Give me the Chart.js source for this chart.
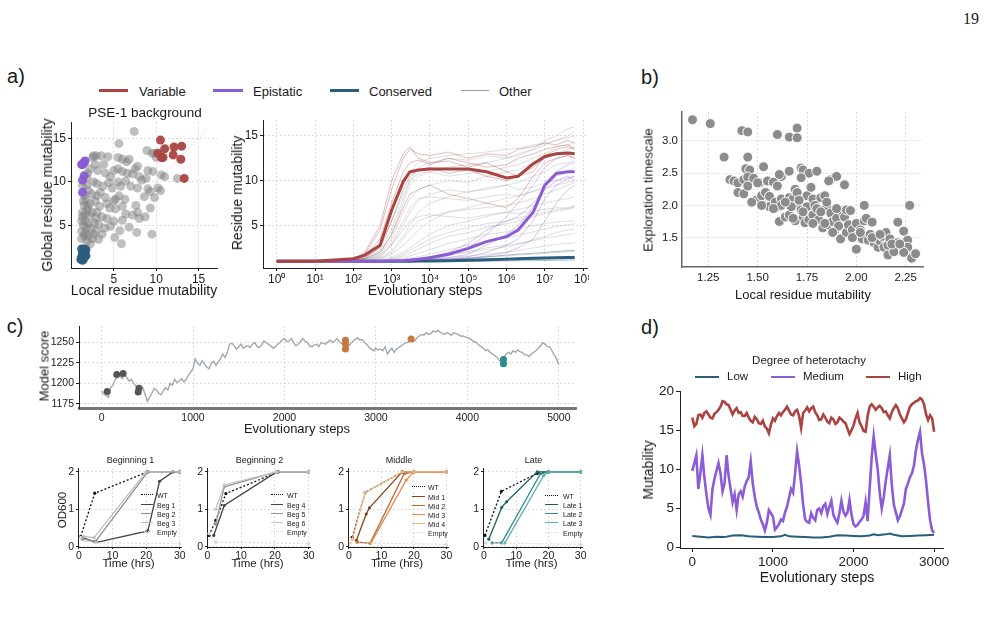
<!DOCTYPE html>
<html>
<head>
<meta charset="utf-8">
<script src="https://cdn.jsdelivr.net/npm/chart.js@4.4.1/dist/chart.umd.min.js"></script>
<style>
  body { margin: 0; background: #fff; }
  #fig { position: relative; width: 991px; height: 623px; overflow: hidden; background: #fff;
         font-family: "Liberation Sans", Arial, Helvetica, sans-serif; color: #1a1a1a; }
  #fig canvas { position: absolute; }
  .t { position: absolute; white-space: nowrap; transform: translate(-50%, -50%); line-height: 1; }
  .t.rot { transform: translate(-50%, -50%) rotate(-90deg); }
  .t.lft { transform: translate(0, -50%); }
</style>
</head>
<body>
<div id="fig"></div>
<script>
// ---- panel a (left): local vs global residue mutability ----
const aOther = [[7.4,15.8],[5.6,14.4],[2.6,13.0],[2.9,13.0],[3.5,13.0],[4.3,12.9],[5.5,12.8],[6.0,12.6],[6.5,12.3],
  [6.8,12.6],[7.8,11.8],[8.9,13.6],[9.5,13.3],[9.8,13.3],[10.0,12.8],[2.8,12.0],[2.2,11.5],[3.1,11.3],[4.0,11.0],
  [5.0,11.3],[5.5,11.5],[6.0,11.2],[6.6,11.0],[7.2,10.9],[8.0,10.6],[9.0,11.3],[9.6,11.2],[10.6,10.8],[11.0,10.6],
  [12.5,10.4],[1.9,11.0],[1.8,10.5],[2.6,10.0],[3.0,9.8],[3.7,9.5],[4.8,9.3],[5.5,10.0],[5.8,9.5],[6.4,10.1],[7.0,9.5],
  [7.8,9.3],[8.3,10.2],[9.0,9.2],[10.2,9.3],[10.5,9.0],[2.0,9.0],[2.4,8.6],[3.0,8.4],[4.0,8.2],[5.0,7.8],[5.6,8.4],
  [6.3,8.0],[7.6,7.3],[8.6,8.3],[9.8,8.2],[1.5,8.5],[1.7,8.0],[2.2,7.5],[2.8,7.8],[3.3,7.2],[4.5,7.0],[5.2,6.9],
  [6.4,6.3],[7.8,6.5],[8.7,6.0],[9.3,7.0],[1.5,7.3],[1.9,6.8],[2.4,6.5],[3.0,6.5],[3.6,6.0],[4.2,5.8],[5.0,5.5],
  [6.0,5.6],[7.2,6.2],[8.0,5.8],[1.3,6.0],[1.6,5.5],[2.0,5.2],[2.7,5.3],[3.2,5.1],[4.6,4.9],[6.8,4.8],[1.4,5.0],
  [1.8,4.7],[2.3,4.6],[2.9,4.4],[3.6,4.0],[5.7,4.4],[7.7,4.2],[1.6,4.1],[2.0,3.8],[2.5,3.5],[3.2,3.4],[5.1,3.6],
  [9.5,4.0],[5.9,2.9],[1.8,3.2],[2.2,2.9],[1.2,3.5],[1.2,4.3],[1.3,6.5],[1.4,7.8],[1.3,9.6],[1.8,9.6],[2.5,12.8],
  [3.8,12.0],[4.6,10.6],[7.5,11.5],[5.2,8.0],[4.2,7.5],[3.4,8.8],[2.9,5.9],[1.6,6.3],[2.1,6.1],[1.2,5.5],[1.9,7.2],
  [4.4,9.9],[6.0,7.2],[8.8,10.4],[9.3,8.9],[3.9,4.7],[2.6,4.0],[1.5,3.8]];
const aVariable = [[10.5,14.8],[11.0,13.8],[10.2,13.3],[10.6,12.8],[10.8,12.8],[12.1,14.0],[12.0,13.1],[13.0,14.1],[12.9,12.6],[13.3,10.4]];
const aEpistatic = [[1.3,12.0],[1.5,12.3],[1.6,12.4],[1.4,12.1],[1.5,10.7],[1.3,10.2],[1.3,8.8],[1.2,12.0]];
const aConserved = [[1.2,2.3],[1.5,2.3],[1.7,2.2],[1.3,1.8],[1.6,1.8],[1.2,1.4],[1.5,1.4],[1.1,1.1],[1.4,1.1],[1.3,1.0],[1.7,1.5]];
const aDiagonal = [1, 16];
const aScatterTicks = [5, 10, 15];

// ---- panel a (right): residue mutability over evolutionary steps ----
const aSteps = [1, 10, 100, 200, 500, 1e3, 2e3, 3e3, 5e3, 1e4, 3e4, 1e5, 3e5, 1e6, 2e6, 5e6, 1e7, 2e7, 4e7, 6e7];
const aVarMean  = [1,1,1.3,1.7,2.8,6.7,9.9,11,11.2,11.3,11.3,11.3,11,10.3,10.5,11.9,12.7,13,13.1,13];
const aEpiMean  = [1,1,1,1,1,1.05,1.1,1.15,1.25,1.4,1.8,2.45,3.2,3.75,4.5,6.5,9.5,10.8,11,11];
const aConsMean = [1,1,1,1,1,1,1.01,1.02,1.03,1.05,1.08,1.12,1.18,1.25,1.3,1.35,1.38,1.4,1.42,1.42];
const aVarRuns = [
  [1,1,1.2,1.8,4.5,9,12.5,13.5,13,12.8,13.2,12.5,13,12.8,13.5,13.8,14.2,14,14.5,14.2],
  [1,1,1.15,1.6,3.5,7.5,11,12,12.3,11.8,12.5,12,11.5,11.8,12.5,13,13.5,13.8,14,13.6],
  [1,1,1.1,1.4,2.5,5.5,9,10.5,11.2,11.5,10.8,11.2,10.5,10,10.5,11.5,12.5,13,13.2,13],
  [1,1,1.1,1.3,2,4,7,8.5,9,9.5,8.5,8,7.5,7,8,10.5,12,12.5,12.8,12.5],
  [1,1,1.2,2,5,10,13,13.8,12.5,12,12.2,11.5,12,11,10.5,11,12.8,13.5,13.8,13.5]];
const aEpiRuns = [
  [1,1,1,1,1,1.05,1.1,1.1,1.2,1.3,1.6,2.5,4,6,7.5,9.5,11.5,12.5,12.8,12.5],
  [1,1,1,1,1,1,1.05,1.1,1.15,1.2,1.4,1.8,2.8,4,5,7,9.5,11,11.8,12],
  [1,1,1,1,1,1,1.02,1.05,1.1,1.15,1.25,1.5,2,2.8,3.5,5.5,8,9.5,10.2,10.5],
  [1,1,1,1,1,1.05,1.1,1.2,1.3,1.5,2,3,4.5,5.5,6,7.5,9,10,10.5,10],
  [1,1,1,1,1,1,1,1.02,1.05,1.1,1.2,1.35,1.6,2,2.5,3.5,5.5,7.5,9,9.5]];
const aConsRuns = [
  [1,1,1,1,1,1,1.02,1.03,1.05,1.1,1.2,1.3,1.5,1.7,1.8,1.9,2,2.1,2.2,2.2],
  [1,1,1,1,1,1,1,1,1.02,1.03,1.05,1.08,1.1,1.15,1.2,1.25,1.3,1.35,1.4,1.4],
  [1,1,1,1,1,1,1,1,1,1,1,1.02,1.03,1.05,1.06,1.08,1.1,1.12,1.15,1.15]];
const aOtherRuns = [
  [1,1,1.1,1.3,2.2,4.5,8,10,11.5,12,12.5,12.3,12.8,12.5,13,13.5,14,14.5,15,15.5],
  [1,1,1.05,1.2,1.8,3.5,6.5,8,9,9.5,10,9.8,10.5,11,11.2,12,12.5,13,13.5,13.8],
  [1,1,1.05,1.1,1.4,2.2,3.8,5,6.5,7.5,8.2,8.8,9,9.5,9.8,10.5,11,11.8,12,12.2],
  [1,1,1,1.1,1.3,1.8,2.8,3.5,4.5,5.5,6.5,7,7.5,8,8.3,8.8,9.2,9.5,9.8,10],
  [1,1,1,1.05,1.2,1.5,2,2.5,3.2,4,5,5.5,6,6.5,6.8,7.2,7.5,7.8,8,8.2],
  [1,1,1,1.05,1.1,1.3,1.6,1.9,2.4,3,3.8,4.2,4.8,5.2,5.5,6,6.3,6.6,6.8,7],
  [1,1,1,1,1.05,1.2,1.4,1.6,1.9,2.3,3,3.5,4,4.3,4.6,5,5.2,5.4,5.5,5.5],
  [1,1,1,1,1.05,1.1,1.2,1.35,1.5,1.8,2.3,2.8,3.2,3.6,3.9,4.3,4.6,4.9,5.1,5.2],
  [1,1,1,1,1,1.05,1.1,1.2,1.3,1.5,1.8,2.1,2.5,2.8,3,3.3,3.6,3.8,4,4.1],
  [1,1,1,1,1,1,1.05,1.1,1.15,1.25,1.4,1.6,1.8,2,2.2,2.5,2.7,2.9,3,3.1],
  [1,1,1.1,1.4,3,6.5,9.5,11,12,12.5,12.8,13,13.2,13.5,13.6,14,14.2,14.5,14.8,15],
  [1,1,1.05,1.15,1.6,2.8,5,6.5,7.8,8.5,9,8.7,9.2,9.5,9,9.3,9.8,10,10.3,10.5],
  [1,1,1,1,1.02,1.05,1.08,1.1,1.15,1.2,1.3,1.4,1.5,1.6,1.7,1.8,1.9,2,2.05,2.1],
  [1,1,1,1.1,1.5,2.8,4.5,5.5,6,6.2,6,5.8,6.2,6.5,6.3,6.6,6.8,7,6.9,7.1],
  [1,1,1.1,1.25,2,4,7.5,9.5,10.5,11,11.5,11.8,12,12.5,12.8,13.5,14.5,15,15.8,16],
  [1,1,1,1.05,1.3,2,3.5,4.5,5.5,6,6.5,6.8,7,7.2,7.5,8,8.5,9,9.5,9.8],
  [1,1,1,1,1.1,1.3,1.8,2.2,2.8,3.5,4.2,4.8,5.2,5.5,5.8,6.2,6.5,6.8,7,7.2],
  [1,1,1.05,1.2,1.7,3,5.5,7,8,8.2,8,7.8,8.2,8.5,8.3,8.8,9.5,10.5,11,11.5],
  [1,1,1,1,1,1.05,1.1,1.15,1.25,1.4,1.7,2,2.3,2.6,2.9,3.4,3.8,4.2,4.5,4.6],
  [1,1,1.1,1.35,2.6,5.5,8.5,10,10.8,11,10.5,10.8,11,11.5,11.8,12.5,13,13.8,14,14.3]];
const aLogTicks = [1e0, 1e1, 1e2, 1e3, 1e4, 1e5, 1e6, 1e7, 1e8];

// ---- panel b: local residue mutability vs exploration timescale ----
const bPoints = [[1.17,3.33],[1.26,3.27],[1.42,3.16],[1.45,3.14],[1.60,3.10],[1.66,3.06],[1.70,3.20],[1.70,3.05],
  [1.33,2.75],[1.45,2.75],[1.53,2.60],[1.44,2.57],[1.46,2.55],[1.36,2.40],[1.38,2.38],[1.40,2.35],[1.43,2.40],
  [1.45,2.44],[1.48,2.42],[1.51,2.35],[1.55,2.38],[1.58,2.36],[1.60,2.30],[1.62,2.45],[1.61,2.48],[1.66,2.53],
  [1.72,2.58],[1.73,2.55],[1.76,2.50],[1.72,2.43],[1.80,2.53],[1.87,2.40],[1.90,2.45],[1.94,2.32],[1.40,2.20],
  [1.43,2.18],[1.45,2.30],[1.49,2.08],[1.52,2.15],[1.54,2.20],[1.56,2.14],[1.53,2.00],[1.56,1.98],[1.59,1.96],
  [1.59,2.05],[1.62,2.10],[1.62,2.00],[1.61,1.75],[1.64,1.82],[1.66,1.85],[1.66,2.12],[1.68,2.10],[1.69,2.25],
  [1.70,2.20],[1.70,2.00],[1.69,1.76],[1.72,1.93],[1.73,1.82],[1.74,1.73],[1.75,2.15],[1.75,1.98],[1.76,1.78],
  [1.77,2.28],[1.78,2.10],[1.78,1.85],[1.79,2.00],[1.80,1.95],[1.81,1.78],[1.82,2.12],[1.83,1.65],[1.84,2.15],
  [1.85,1.98],[1.86,1.70],[1.86,2.38],[1.87,1.88],[1.88,1.75],[1.89,1.60],[1.90,1.80],[1.91,1.68],[1.92,1.48],
  [1.93,1.90],[1.94,1.82],[1.95,1.93],[1.95,1.58],[1.96,1.70],[1.97,1.92],[1.98,1.62],[2.00,1.32],[2.00,1.72],
  [2.01,1.55],[2.02,1.62],[2.03,1.48],[2.04,2.00],[2.04,1.76],[2.05,1.80],[2.06,1.46],[2.07,1.55],[2.08,1.74],
  [2.09,1.42],[2.10,1.50],[2.11,1.35],[2.12,1.45],[2.13,1.52],[2.14,1.35],[2.15,1.58],[2.16,1.38],[2.16,1.23],
  [2.17,1.48],[2.19,1.28],[2.21,1.42],[2.21,1.74],[2.24,1.60],[2.25,1.44],[2.25,1.30],[2.26,1.46],[2.27,2.00],
  [2.26,1.35],[2.28,1.18],[2.30,1.25],[2.24,1.27],[1.98,1.50],[2.02,1.58],[1.88,1.58],[1.84,1.72],[1.67,1.98],
  [1.68,1.80],[1.64,2.05],[1.58,1.95],[1.50,2.35],[1.47,2.05],[1.52,2.00],[1.71,2.08],[1.73,1.90],[1.78,1.72],
  [1.82,1.90],[1.85,2.05],[1.90,1.95],[2.08,1.50],[2.12,1.55],[2.18,1.40],[2.22,1.40]];
const bXTicks = [1.25, 1.5, 1.75, 2.0, 2.25];
const bYTicks = [1.5, 2.0, 2.5, 3.0];

// ---- panel c (top): model score along the trajectory ----
const cSteps = [0,25,50,75,100,125,150,175,200,225,250,275,300,325,350,375,400,425,450,475,500,525,550,575,600,625,
  650,675,700,725,750,775,800,825,850,875,900,925,950,975,1000,1025,1050,1075,1100,1125,1150,1175,1200,1225,1250,
  1275,1300,1325,1350,1375,1400,1425,1450,1475,1500,1525,1550,1575,1600,1625,1650,1675,1700,1725,1750,1775,1800,
  1825,1850,1875,1900,1925,1950,1975,2000,2025,2050,2075,2100,2125,2150,2175,2200,2225,2250,2275,2300,2325,2350,
  2375,2400,2425,2450,2475,2500,2525,2550,2575,2600,2625,2650,2675,2700,2725,2750,2775,2800,2825,2850,2875,2900,
  2925,2950,2975,3000,3025,3050,3075,3100,3125,3150,3175,3200,3225,3250,3275,3300,3325,3350,3375,3400,3425,3450,
  3475,3500,3525,3550,3575,3600,3625,3650,3675,3700,3725,3750,3775,3800,3825,3850,3875,3900,3925,3950,3975,4000,
  4025,4050,4075,4100,4125,4150,4175,4200,4225,4250,4275,4300,4325,4350,4375,4400,4425,4450,4475,4500,4525,4550,
  4575,4600,4625,4650,4675,4700,4725,4750,4775,4800,4825,4850,4875,4900,4925,4950,4975,5000];
const cScore = [1190,1187,1185,1183,1195,1198,1205,1208,1210,1206,1212,1207,1203,1205,1200,1197,1192,1196,1195,1187,
  1178,1183,1188,1194,1192,1188,1186,1191,1195,1192,1200,1198,1205,1201,1203,1206,1202,1205,1210,1214,1218,1230,
  1225,1222,1228,1224,1220,1218,1225,1227,1222,1226,1230,1236,1232,1238,1248,1249,1246,1242,1245,1248,1243,1245,
  1246,1244,1248,1250,1245,1244,1247,1252,1250,1248,1246,1243,1245,1248,1250,1253,1255,1251,1252,1255,1250,1246,
  1248,1251,1255,1252,1250,1246,1245,1247,1248,1245,1250,1249,1248,1251,1253,1250,1252,1255,1251,1249,1248,1240,
  1245,1249,1252,1254,1256,1253,1254,1250,1248,1244,1242,1240,1243,1241,1242,1240,1245,1236,1240,1243,1238,1242,
  1244,1246,1248,1250,1250,1253,1254,1252,1256,1258,1260,1259,1262,1260,1261,1264,1263,1265,1263,1261,1260,1262,
  1261,1259,1262,1261,1260,1258,1258,1257,1256,1255,1253,1251,1250,1247,1245,1243,1240,1241,1238,1236,1234,1232,
  1228,1226,1232,1236,1238,1236,1240,1238,1241,1239,1238,1235,1235,1233,1236,1238,1240,1243,1246,1250,1248,1245,
  1245,1240,1235,1230,1223];
const cBeginning = [[61,1190],[166,1211],[235,1212],[409,1194],[400,1189.5]];
const cMiddle = [[2667,1253],[2667,1248.5],[2667,1242],[3385,1254.5]];
const cLate = [[4395,1229.3],[4395,1224]];
const cXTicks = [0, 1000, 2000, 3000, 4000, 5000];
const cYTicks = [1175, 1200, 1225, 1250];

// ---- panel c (bottom): growth curves, OD600 vs time (hrs) ----
const beg1WT = [[0.5,0.27],[4.7,1.43],[20.5,2],[30,2]];
const beg1B1 = [[1,0.25],[5,0.11],[20.5,0.42],[24,1.75],[28,2],[30,2]];
const beg1B2 = [[1,0.2],[5,0.15],[20.5,2],[30,2]];
const beg1B3 = [[1.5,0.27],[4.5,0.24],[20,2],[30,2]];
const beg1Empty = [[0.5,0.25],[2,0.15],[5,0.1],[30,0.08]];
const beg2WT = [[0.5,0.3],[2.5,0.7],[5.5,1.42],[21,2],[30,2]];
const beg2B4 = [[1.9,0.3],[5,1.1],[20.5,2],[30,2]];
const beg2B5 = [[2.5,0.6],[5,1.6],[20.5,2],[30,2]];
const beg2B6 = [[2.5,1.0],[5,1.65],[20.5,2],[30,2]];
const beg2Empty = [[0.5,0.35],[2.5,0.12],[30,0.08]];
const midWT = [[1,0.25],[5,1.45],[16.5,2],[20,2]];
const midM1 = [[2.3,0.17],[5.3,0.87],[6.3,1.04],[16.4,2],[20,2],[30,2]];
const midM2 = [[2.5,0.12],[6.5,0.09],[17,1.95],[20,2],[30,2]];
const midM3 = [[6.8,0.1],[17.6,1.78],[20,2],[30,2]];
const midM4 = [[1,0.2],[5,1.45],[16.5,2],[20,2],[30,2]];
const midEmpty = [[0.5,0.1],[30,0.06]];
const lateWT = [[0.3,0.3],[5.4,1.48],[16.5,1.96],[20,2]];
const lateL1 = [[1.5,0.2],[5.5,1.05],[7,1.2],[16.5,2],[20,2],[30,2]];
const lateL2 = [[2.5,0.1],[5.5,0.1],[17.5,1.95],[20,2],[30,2]];
const lateL3 = [[6.5,0.1],[18.5,1.9],[20,2],[30,2]];
const lateEmpty = [[0.5,0.1],[30,0.06]];
const odXTicks = [0, 10, 20, 30];
const odYTicks = [0, 1, 2];

// ---- panel d: mutability by degree of heterotachy ----
const dSteps = [0,25,50,75,100,125,150,175,200,225,250,275,300,325,350,375,400,425,450,475,500,525,550,575,600,625,
  650,675,700,725,750,775,800,825,850,875,900,925,950,975,1000,1025,1050,1075,1100,1125,1150,1175,1200,1225,1250,
  1275,1300,1325,1350,1375,1400,1425,1450,1475,1500,1525,1550,1575,1600,1625,1650,1675,1700,1725,1750,1775,1800,
  1825,1850,1875,1900,1925,1950,1975,2000,2025,2050,2075,2100,2125,2150,2175,2200,2225,2250,2275,2300,2325,2350,
  2375,2400,2425,2450,2475,2500,2525,2550,2575,2600,2625,2650,2675,2700,2725,2750,2775,2800,2825,2850,2875,2900,
  2925,2950,2975,3000];
const dHigh = [16.6,15.5,15.8,16.9,17.0,16.6,17.2,17.4,17.0,16.6,16.5,17.1,17.3,17.6,18.0,18.7,18.6,18.3,18.2,17.6,
  17.0,17.5,17.8,17.2,17.3,16.8,16.8,17.2,16.6,16.2,16.0,16.7,16.4,15.9,15.8,16.2,15.5,15.2,14.6,15.7,16.5,16.2,
  16.8,17.2,16.9,17.3,17.6,18.0,17.5,17.0,16.9,17.4,17.6,16.8,15.3,17.2,17.5,17.9,17.4,17.8,18.0,17.3,16.9,16.3,
  16.4,17.0,16.6,16.1,15.9,16.6,16.4,15.8,16.0,16.6,16.4,16.1,15.9,15.2,14.5,15.0,15.6,16.5,17.2,16.0,15.5,14.9,
  14.8,16.8,18.0,18.3,18.0,17.6,17.9,18.1,17.8,17.3,17.4,16.9,16.5,17.3,17.8,18.2,17.8,17.0,16.5,16.0,16.4,17.2,
  18.0,18.3,18.5,18.7,18.8,19.1,18.9,18.3,17.0,16.3,16.9,16.5,14.8];
const dMedium = [9.8,10.8,11.8,7.5,9.5,11.8,9.0,6.8,5.0,4.2,7.5,8.8,9.8,10.8,9.5,7.2,8.2,11.8,9.2,7.5,5.8,6.8,4.8,6.8,
  7.2,6.5,7.8,8.5,9.0,11.0,8.2,6.5,5.2,4.5,3.6,3.0,2.2,3.2,4.8,4.4,4.0,2.3,2.6,3.0,3.6,3.4,4.5,5.2,6.4,7.5,7.0,9.5,
  12.3,10.5,8.2,5.5,3.6,3.3,3.2,4.4,3.8,3.5,4.8,5.0,4.4,5.3,5.6,4.3,5.2,6.0,4.2,3.6,3.2,4.4,6.0,4.6,4.1,4.5,6.1,
  4.2,3.0,2.7,2.9,3.3,3.6,4.1,5.8,3.4,7.5,11.5,14.2,12.0,10.0,7.0,5.0,6.5,8.5,10.2,11.8,8.0,5.5,4.5,3.5,4.0,4.8,
  5.6,7.5,8.2,9.0,9.5,10.5,12.5,13.8,14.8,12.0,10.6,8.5,5.8,3.5,2.2,1.9];
const dLowSteps = [0,100,200,300,400,500,600,700,800,900,1000,1100,1150,1200,1300,1400,1500,1600,1700,1800,1900,
  2000,2100,2200,2250,2300,2400,2450,2500,2600,2700,2800,2900,3000];
const dLow = [1.5,1.4,1.3,1.4,1.35,1.55,1.6,1.45,1.4,1.35,1.35,1.45,1.65,1.45,1.4,1.35,1.3,1.3,1.4,1.6,1.55,1.5,
  1.45,1.55,1.7,1.6,1.7,1.8,1.65,1.45,1.5,1.55,1.6,1.65];
const dXTicks = [0, 1000, 2000, 3000];
const dYTicks = [0, 5, 10, 15, 20];

const RED = '#a94442', PURPLE = '#8b5cd6', BLUE = '#2b5d7e';

// ---------------------------------------------------------------
const fig = document.getElementById('fig');
Chart.defaults.font.family = '"Liberation Sans", Arial, Helvetica, sans-serif';
Chart.defaults.color = '#222';

function text(str, x, y, size, cls, extra) {
  const d = document.createElement('div');
  d.className = 't' + (cls ? ' ' + cls : '');
  d.textContent = str;
  d.style.left = x + 'px';
  d.style.top = y + 'px';
  d.style.fontSize = size + 'px';
  if (extra) Object.assign(d.style, extra);
  fig.appendChild(d);
}

function swatch(x1, x2, y, color, w, style) {
  const d = document.createElement('div');
  d.style.cssText = `position:absolute;left:${x1}px;top:${y - w / 2}px;width:${x2 - x1}px;height:0;` +
    `border-top:${w}px ${style || 'solid'} ${color}`;
  fig.appendChild(d);
}

function axis(o) {
  const horiz = o.pos === 'bottom';
  return {
    type: o.type || 'linear', position: o.pos, min: o.min, max: o.max,
    afterBuildTicks: s => { s.ticks = o.ticks.map(v => ({ value: v })); },
    afterFit: s => {
      if (horiz) s.height = o.size; else s.width = o.size;
      s.paddingLeft = s.paddingRight = s.paddingTop = s.paddingBottom = 0;
    },
    ticks: { autoSkip: false, maxRotation: 0, padding: o.pad != null ? o.pad : 2, color: '#222',
             font: { size: o.font }, callback: o.fmt || (v => v) },
    grid: { display: true, drawOnChartArea: !!o.grid, color: o.grid ? '#d6d6d6' : 'rgba(0,0,0,0)',
            lineWidth: 0.8, drawTicks: !!o.tick, tickLength: o.tick || 0, tickColor: o.axisColor || '#222',
            tickWidth: 1 },
    border: { display: true, color: o.axisColor || '#222', width: o.axisWidth || 1, dash: o.grid ? [2, 2] : [] }
  };
}

function chartAt(box, m, datasets, xAxis, yAxis) {
  const cv = document.createElement('canvas');
  const w = box.r - box.l + m.yw + m.pr, h = box.b - box.t + m.pt + m.xh;
  cv.width = w; cv.height = h;
  cv.style.left = (box.l - m.yw) + 'px'; cv.style.top = (box.t - m.pt) + 'px';
  cv.style.width = w + 'px'; cv.style.height = h + 'px';
  fig.appendChild(cv);
  return new Chart(cv, {
    type: 'scatter',
    data: { datasets },
    options: {
      responsive: false, animation: false, devicePixelRatio: 1,
      layout: { padding: { top: m.pt, right: m.pr, left: 0, bottom: 0 } },
      plugins: { legend: { display: false }, tooltip: { enabled: false } },
      scales: {
        x: axis(Object.assign({ pos: 'bottom', size: m.xh }, xAxis)),
        y: axis(Object.assign({ pos: 'left', size: m.yw }, yAxis))
      }
    }
  });
}

const toXY = (xs, ys) => xs.map((x, i) => ({ x, y: ys[i] }));
const fromPairs = p => p.map(([x, y]) => ({ x, y }));

function line(data, color, width, extra) {
  return Object.assign({ data, showLine: true, borderColor: color, backgroundColor: color,
    borderWidth: width, pointRadius: 0, fill: false }, extra || {});
}
function dots(data, fill, r, extra) {
  return Object.assign({ data, showLine: false, backgroundColor: fill, borderColor: fill,
    borderWidth: 0, pointRadius: r }, extra || {});
}

// ---- labels ----
text('19', 971, 19, 16, '', { fontFamily: '"Liberation Serif", "DejaVu Serif", serif' });
text('a)', 16, 76, 20);
text('b)', 650, 77, 20);
text('c)', 15, 326, 20);
text('d)', 650, 327, 20);

// panel a legend
[['Variable', RED, 3, 99, 128, 139], ['Epistatic', PURPLE, 3, 213, 243, 253],
 ['Conserved', BLUE, 3, 330, 359, 369], ['Other', '#9a9a9a', 1, 461, 489, 499]].forEach(([lab, col, w, x1, x2, tx]) => {
  swatch(x1, x2, 90.5, col, w);
  text(lab, tx, 90.5, 13, 'lft');
});

// ---- panel a left ----
chartAt({ l: 71, t: 120, r: 218, b: 268 }, { yw: 26, xh: 20, pt: 2, pr: 4 }, [
  line(toXY(aDiagonal, aDiagonal), '#cfcfcf', 0.8, { borderDash: [2, 2], order: 5 }),
  dots(fromPairs(aOther), 'rgba(128,128,128,0.5)', 4.5, { order: 4 }),
  dots(fromPairs(aVariable), 'rgba(169,68,66,0.95)', 4.5, { order: 1 }),
  dots(fromPairs(aEpistatic), 'rgba(139,92,214,0.95)', 4.5, { order: 1 }),
  dots(fromPairs(aConserved), 'rgba(43,93,126,0.95)', 4.5, { order: 1 })
], { min: -0.06, max: 17.23, ticks: aScatterTicks, font: 12, grid: true, tick: 3, pad: 1 },
   { min: 0.11, max: 16.82, ticks: aScatterTicks, font: 12, grid: true, tick: 3, pad: 2 });
text('PSE-1 background', 145, 113, 13.5);
text('Global residue mutability', 47, 195, 14, 'rot');
text('Local residue mutability', 144, 290, 14);

// ---- panel a right ----
const supDigits = ['⁰', '¹', '²', '³', '⁴', '⁵', '⁶', '⁷', '⁸'];
chartAt({ l: 263, t: 120, r: 587, b: 268 }, { yw: 30, xh: 20, pt: 2, pr: 2 }, [
  ...aOtherRuns.map(r => line(toXY(aSteps, r), 'rgba(150,150,150,0.4)', 0.8, { order: 4 })),
  ...aVarRuns.map(r => line(toXY(aSteps, r), 'rgba(169,68,66,0.45)', 0.8, { order: 3 })),
  ...aEpiRuns.map(r => line(toXY(aSteps, r), 'rgba(139,92,214,0.45)', 0.8, { order: 3 })),
  ...aConsRuns.map(r => line(toXY(aSteps, r), 'rgba(43,93,126,0.5)', 0.8, { order: 3 })),
  line(toXY(aSteps, aVarMean), RED, 3, { order: 1 }),
  line(toXY(aSteps, aEpiMean), PURPLE, 3, { order: 1 }),
  line(toXY(aSteps, aConsMean), BLUE, 3, { order: 1 })
], { type: 'logarithmic', min: 0.4385, max: 1.26e8, ticks: aLogTicks, font: 12, grid: true, tick: 3, pad: 1,
     fmt: v => '10' + supDigits[Math.round(Math.log10(v))] },
   { min: 0.26, max: 16.77, ticks: aScatterTicks, font: 12, grid: true, tick: 3, pad: 2 });
text('Residue mutability', 237, 193, 14, 'rot');
text('Evolutionary steps', 425, 290, 14);

// ---- panel b ----
chartAt({ l: 682, t: 112, r: 923, b: 267 }, { yw: 30, xh: 20, pt: 8, pr: 8 }, [
  dots(fromPairs(bPoints), '#8c8c8c', 5, { borderColor: '#ffffff', borderWidth: 1 })
], { min: 1.1168, max: 2.3376, ticks: bXTicks, font: 11.5, grid: true, pad: 4, axisColor: '#666', axisWidth: 1.5,
     fmt: v => v.toFixed(2) },
   { min: 1.0435, max: 3.45, ticks: bYTicks, font: 11.5, grid: true, pad: 4, axisColor: '#666', axisWidth: 1.5,
     fmt: v => v.toFixed(1) });
text('Exploration timescale', 648, 190, 13, 'rot');
text('Local residue mutability', 803, 294, 13);

// ---- panel c top ----
chartAt({ l: 79, t: 324, r: 578, b: 408 }, { yw: 30, xh: 18, pt: 2, pr: 2 }, [
  line(toXY(cSteps, cScore), '#a3a8ae', 1.4, { order: 3 }),
  dots(fromPairs(cBeginning), '#555555', 3.5, { order: 1 }),
  dots(fromPairs(cMiddle), '#c8783f', 3.5, { order: 1 }),
  dots(fromPairs(cLate), '#2a8c8c', 3.5, { order: 1 })
], { min: -247, max: 5188, ticks: cXTicks, font: 10.5, grid: true, pad: 4, axisColor: '#777', axisWidth: 3 },
   { min: 1169.9, max: 1270.3, ticks: cYTicks, font: 10.5, grid: true, tick: 3, pad: 2 });
text('Model score', 44, 366, 13, 'rot');
text('Evolutionary steps', 297, 428, 13);

// ---- panel c bottom: growth curves ----
function odPanel(box, title, series, legend) {
  chartAt(box, { yw: 14, xh: 15, pt: 2, pr: 2 },
    series.map(([pairs, col, dash, w]) => line(fromPairs(pairs), col, w || 1.3,
      { borderDash: dash ? [2, 2] : [], pointRadius: 1.6, pointBackgroundColor: col, pointBorderWidth: 0 })),
    { min: box.xmin, max: box.xmax, ticks: odXTicks, font: 10.5, grid: true, tick: 2, pad: 1 },
    { min: -0.01, max: 2.104, ticks: odYTicks, font: 10.5, grid: true, tick: 2, pad: 2 });
  text(title, (box.l + box.r) / 2, 460, 9);
  text('Time (hrs)', (box.l + box.r) / 2 - 2, 564, 11.5);
  series.forEach(([pairs, col, dash], i) => {
    const y = legend.rows[i];
    swatch(legend.x1, legend.x2, y, col, dash ? 1.2 : 1.4, dash ? 'dotted' : 'solid');
    text(legend.labels[i], legend.tx, y, 7, 'lft');
  });
}

odPanel({ l: 78, t: 466, r: 183, b: 547, xmin: -0.29, xmax: 30.38 }, 'Beginning 1', [
  [beg1Empty, '#d9d9d9', true], [beg1B3, '#bdbdbd'], [beg1B2, '#8e8e8e'], [beg1B1, '#444444'], [beg1WT, '#111111', true]
], { rows: [532, 523, 514, 505, 495], x1: 141, x2: 153, tx: 157, labels: ['Empty', 'Beg 3', 'Beg 2', 'Beg 1', 'WT'] });

odPanel({ l: 207, t: 466, r: 312, b: 547, xmin: -0.09, xmax: 30.37 }, 'Beginning 2', [
  [beg2Empty, '#d9d9d9', true], [beg2B6, '#c4c4c4'], [beg2B5, '#959595'], [beg2B4, '#444444'], [beg2WT, '#111111', true]
], { rows: [532, 523, 514, 505, 495], x1: 271, x2: 283, tx: 287, labels: ['Empty', 'Beg 6', 'Beg 5', 'Beg 4', 'WT'] });

odPanel({ l: 348, t: 466, r: 450, b: 547, xmin: -0.3, xmax: 30.5 }, 'Middle', [
  [midEmpty, '#d9d9d9', true], [midM4, '#efb682'], [midM3, '#dd8d4e'], [midM2, '#b9662d'], [midM1, '#86461c'],
  [midWT, '#111111', true]
], { rows: [533, 524, 515, 506, 497, 487], x1: 412, x2: 425, tx: 428,
     labels: ['Empty', 'Mid 4', 'Mid 3', 'Mid 2', 'Mid 1', 'WT'] });

odPanel({ l: 483, t: 466, r: 584, b: 547, xmin: -0.3, xmax: 30.4 }, 'Late', [
  [lateEmpty, '#d9d9d9', true], [lateL3, '#5fb0b0'], [lateL2, '#2b8c8c'], [lateL1, '#1c6262'], [lateWT, '#111111', true]
], { rows: [533, 523, 514, 505, 496], x1: 545, x2: 558, tx: 563, labels: ['Empty', 'Late 3', 'Late 2', 'Late 1', 'WT'] });

text('OD600', 63, 510, 11.5, 'rot');

// ---- panel d ----
chartAt({ l: 680, t: 391, r: 943, b: 548 }, { yw: 32, xh: 22, pt: 8, pr: 6 }, [
  line(toXY(dSteps, dHigh), RED, 2.6),
  line(toXY(dSteps, dMedium), PURPLE, 2.6),
  line(toXY(dLowSteps, dLow), '#2a5d78', 2)
], { min: -152.6, max: 3110, ticks: dXTicks, font: 13.5, tick: 4, pad: 2 },
   { min: -0.04, max: 20, ticks: dYTicks, font: 13.5, tick: 4, pad: 2 });
text('Degree of heterotachy', 809, 361, 11.5);
[['Low', '#2a5d78', 695, 719, 727], ['Medium', PURPLE, 771, 795, 803], ['High', RED, 866, 890, 898]]
  .forEach(([lab, col, x1, x2, tx]) => { swatch(x1, x2, 377, col, 2.2); text(lab, tx, 377, 11.5, 'lft'); });
text('Mutability', 648, 470, 14, 'rot');
text('Evolutionary steps', 817, 577, 14);
</script>
</body>
</html>
